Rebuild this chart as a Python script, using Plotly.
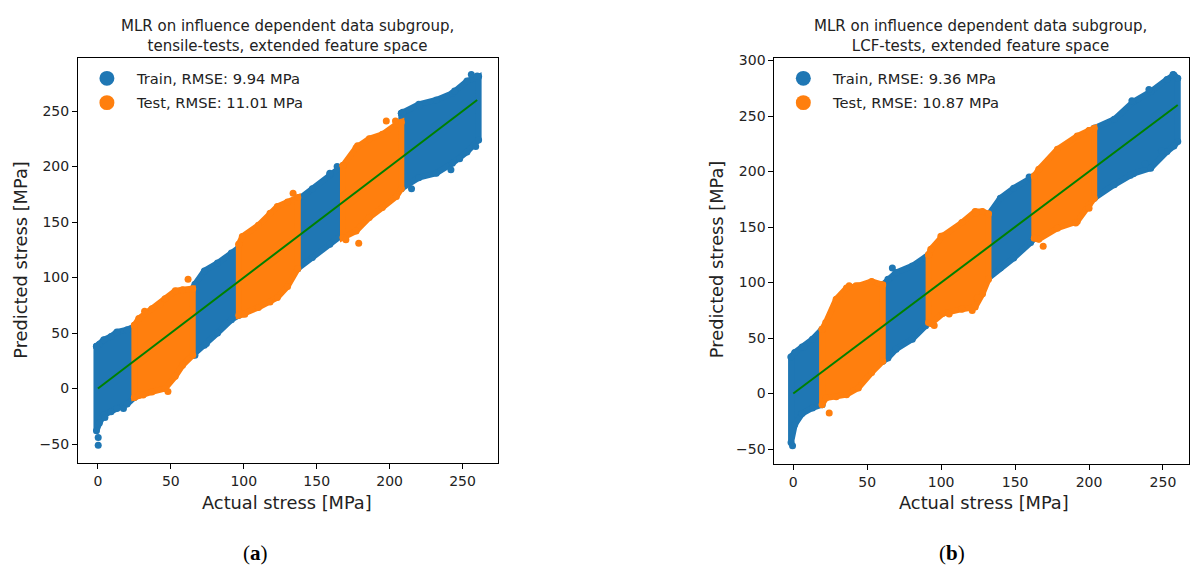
import plotly.graph_objects as go

W, H = 1190, 567

BLUE = "#1f77b4"
ORANGE = "#ff7f0e"
GREEN = "#008000"

# ---------------- panel (a): tensile tests ----------------
# each band of the point cloud: x positions with upper / lower extent of predictions
A_TRAIN_X = [[-1, 1, 4, 9, 13, 20, 25],
             [65, 66.5, 73, 82, 91.5, 96.6],
             [137, 147, 159, 168],
             [208, 220, 232, 243, 253, 261]]
A_TRAIN_HI = [[38, 40, 44, 47, 51, 53, 56],
              [90, 94, 106, 113, 122, 127],
              [170, 180, 193, 201],
              [248, 256, 260, 266, 277, 281]]
A_TRAIN_LO = [[-38, -31, -24, -21, -18, -14, -8],
              [30, 30, 39, 50, 62, 66],
              [108, 118, 130, 139],
              [180, 190, 194, 203, 213, 224]]

A_TEST_X = [[25, 28, 37, 46, 53, 58, 65],
            [96.6, 99, 110, 118, 123, 130, 137],
            [168, 177, 186, 195, 204.6, 208]]
A_TEST_HI = [[57, 63, 72, 81, 88, 89, 90],
             [130, 137, 147, 158, 164, 168, 172],
             [201, 217, 225, 229, 238, 240]]
A_TEST_LO = [[-8, -6, -3, 0, 11, 21, 30],
             [66, 67, 73, 78, 82, 92, 108],
             [136, 142, 154, 163, 173, 180]]

# isolated predictions outside the dense bands
A_TRAIN_PTS_X = [0.2, 0.2, 4.8, 17.5, 74.4, 159, 164, 209, 215, 220.5, 242, 244.5, 248, 256, 260, 259]
A_TRAIN_PTS_Y = [-44, -51, -26, -18, 40.5, 194, 200, 249, 180, 254.7, 197, 268, 207, 283, 281.5, 218]
A_TEST_PTS_X = [61.8, 42.5, 32, 48, 31, 100.7, 170, 178.8, 133.8, 197.7, 204, 178]
A_TEST_PTS_Y = [98.5, 76, 69.6, -2.7, -5.7, 67, 134, 131, 176, 241, 241, 218.8]

# ---------------- panel (b): LCF tests ----------------
B_TRAIN_X = [[-1.5, 1, 6, 13, 19.5],
             [60.5, 64, 69.5, 80.5, 89.5, 91.5],
             [132, 140, 149, 160.5, 163],
             [203.5, 217, 230, 241.7, 252.7, 257.4, 260]]
B_TRAIN_HI = [[33, 37, 42, 49, 58],
              [98, 103, 109, 115, 122, 125],
              [161, 176, 185, 194, 196],
              [239, 247, 263, 272, 283, 287, 284]]
B_TRAIN_LO = [[-44, -28, -18, -13, -10],
              [29, 32, 40, 49, 61, 65],
              [104, 113, 122, 136, 140],
              [176, 188, 198, 203, 218, 223, 227]]

B_TEST_X = [[19.5, 22, 29, 36, 44, 53, 60.5],
            [91.5, 93, 101, 114, 123, 128, 132],
            [163, 166, 178.6, 192, 200, 203.5]]
B_TEST_HI = [[58, 64, 85, 95, 97, 101, 98],
             [125, 130, 142, 154, 164, 164, 162],
             [196, 202, 220, 232, 237, 239]]
B_TEST_LO = [[-10, -4, -3, -1, 5, 19, 29],
             [64, 63, 72, 76, 78, 90, 103],
             [140, 139, 149, 155, 170, 176]]

B_TRAIN_PTS_X = [67, -0.5, 7.4, 256.8, 228, 238, 249, 240.5, 159.5, 229]
B_TRAIN_PTS_Y = [113, -47, 42, 287.5, 196.7, 207, 219, 274, 195, 263.7]
B_TEST_PTS_X = [24.3, 37.8, 42.4, 46.8, 123.4, 99.8, 95.3, 124.5, 121, 105.4, 191, 169, 200, 200, 125]
B_TEST_PTS_Y = [-17.6, 97, 97, 97, 162.5, 141.7, 61.3, 85.7, 74.7, 71.7, 153.6, 132.8, 237, 167, 86.6]

# ideal prediction line
IDEAL = [0, 260]

TITLES = ["MLR on influence dependent data subgroup,<br>tensile-tests, extended feature space",
          "MLR on influence dependent data subgroup,<br>LCF-tests, extended feature space"]
LEGENDS = [("Train, RMSE: 9.94 MPa", "Test, RMSE: 11.01 MPa"),
           ("Train, RMSE: 9.36 MPa", "Test, RMSE: 10.87 MPa")]
CAPTIONS = ["a", "b"]
X_TICKS = [0, 50, 100, 150, 200, 250]
Y_TICKS = [[-50, 0, 50, 100, 150, 200, 250], [-50, 0, 50, 100, 150, 200, 250, 300]]


def px(x):
    return x / W


def py(y):
    return 1 - y / H


fig = go.Figure()


def add_bands(xs_list, hi_list, lo_list, color, xa, ya):
    for xs, hi, lo in zip(xs_list, hi_list, lo_list):
        poly_x = list(xs) + list(reversed(xs)) + [xs[0]]
        poly_y = list(hi) + list(reversed(lo)) + [hi[0]]
        fig.add_trace(go.Scatter(
            x=poly_x, y=poly_y, mode="lines+markers", fill="toself",
            fillcolor=color, line=dict(color=color, width=6),
            marker=dict(color=color, size=7),
            xaxis=xa, yaxis=ya, showlegend=False, hoverinfo="skip"))


def add_points(xs, ys, color, xa, ya):
    fig.add_trace(go.Scatter(
        x=xs, y=ys, mode="markers", marker=dict(color=color, size=7),
        xaxis=xa, yaxis=ya, showlegend=False, hoverinfo="skip"))


panels = [
    (A_TRAIN_X, A_TRAIN_HI, A_TRAIN_LO, A_TEST_X, A_TEST_HI, A_TEST_LO,
     A_TRAIN_PTS_X, A_TRAIN_PTS_Y, A_TEST_PTS_X, A_TEST_PTS_Y, "x", "y"),
    (B_TRAIN_X, B_TRAIN_HI, B_TRAIN_LO, B_TEST_X, B_TEST_HI, B_TEST_LO,
     B_TRAIN_PTS_X, B_TRAIN_PTS_Y, B_TEST_PTS_X, B_TEST_PTS_Y, "x2", "y2"),
]

for (trx, trh, trl, tex, teh, tel, tpx, tpy, epx, epy, xa, ya) in panels:
    add_bands(trx, trh, trl, BLUE, xa, ya)
    add_points(tpx, tpy, BLUE, xa, ya)
    add_bands(tex, teh, tel, ORANGE, xa, ya)
    add_points(epx, epy, ORANGE, xa, ya)
    fig.add_trace(go.Scatter(x=IDEAL, y=IDEAL, mode="lines",
                             line=dict(color=GREEN, width=2),
                             xaxis=xa, yaxis=ya, showlegend=False, hoverinfo="skip"))

# axes geometry (pixels)
AX = [dict(l=78, r=498, t=53, b=462, xr=[-13.7, 274.0], yr=[-67.0, 298.2]),
      dict(l=775, r=1190, t=53, b=463, xr=[-12.8, 267.6], yr=[-63.4, 302.7])]

axis_common = dict(showgrid=False, zeroline=False, showline=True, linecolor="#000",
                   linewidth=1, mirror=True, ticks="outside", ticklen=5, tickwidth=1,
                   tickcolor="#000", tickfont=dict(family="DejaVu Sans", size=14, color="#222"))

layout = dict(width=W, height=H, margin=dict(l=0, r=0, t=0, b=0),
              plot_bgcolor="white", paper_bgcolor="white", showlegend=False)

for i, a in enumerate(AX):
    sfx = "" if i == 0 else str(i + 1)
    layout["xaxis" + sfx] = dict(axis_common, domain=[px(a["l"]), px(a["r"])], range=a["xr"],
                                 tickvals=X_TICKS, anchor="y" + sfx)
    layout["yaxis" + sfx] = dict(axis_common, domain=[py(a["b"]), py(a["t"])], range=a["yr"],
                                 tickvals=Y_TICKS[i], anchor="x" + sfx)

fig.update_layout(**layout)

annotations = []
shapes = []
title_cx = [288, 981]
xlabel_cx = [287, 985]
ylabel_cx = [21, 717]
legend_mx = [107, 804]
caption_cx = [256, 953]

for i in range(2):
    annotations.append(dict(x=px(title_cx[i]), y=py(31), xref="paper", yref="paper",
                            text=TITLES[i], showarrow=False, xanchor="center", yanchor="middle",
                            font=dict(family="DejaVu Sans", size=15, color="#222")))
    annotations.append(dict(x=px(xlabel_cx[i]), y=py(502), xref="paper", yref="paper",
                            text="Actual stress [MPa]", showarrow=False,
                            xanchor="center", yanchor="middle",
                            font=dict(family="DejaVu Sans", size=17.8, color="#222")))
    annotations.append(dict(x=px(ylabel_cx[i]), y=py(257), xref="paper", yref="paper",
                            text="Predicted stress [MPa]", showarrow=False, textangle=-90,
                            xanchor="center", yanchor="middle",
                            font=dict(family="DejaVu Sans", size=17.8, color="#222")))
    for j, (label, color) in enumerate(zip(LEGENDS[i], [BLUE, ORANGE])):
        cy = 74 + j * 24.5
        r = 7.5
        shapes.append(dict(type="circle", xref="paper", yref="paper",
                           x0=px(legend_mx[i] - r), x1=px(legend_mx[i] + r),
                           y0=py(cy + r), y1=py(cy - r),
                           fillcolor=color, line=dict(color=color, width=0)))
        annotations.append(dict(x=px(legend_mx[i] + 27), y=py(cy), xref="paper", yref="paper",
                                text=label, showarrow=False, xanchor="left", yanchor="middle",
                                font=dict(family="DejaVu Sans", size=14.7, color="#222")))
    annotations.append(dict(x=px(caption_cx[i]), y=py(553), xref="paper", yref="paper",
                            text="(<b>" + CAPTIONS[i] + "</b>)", showarrow=False,
                            xanchor="center", yanchor="middle",
                            font=dict(family="Liberation Serif", size=21, color="#000")))

fig.update_layout(annotations=annotations, shapes=shapes)

fig.write_html("out.html")
